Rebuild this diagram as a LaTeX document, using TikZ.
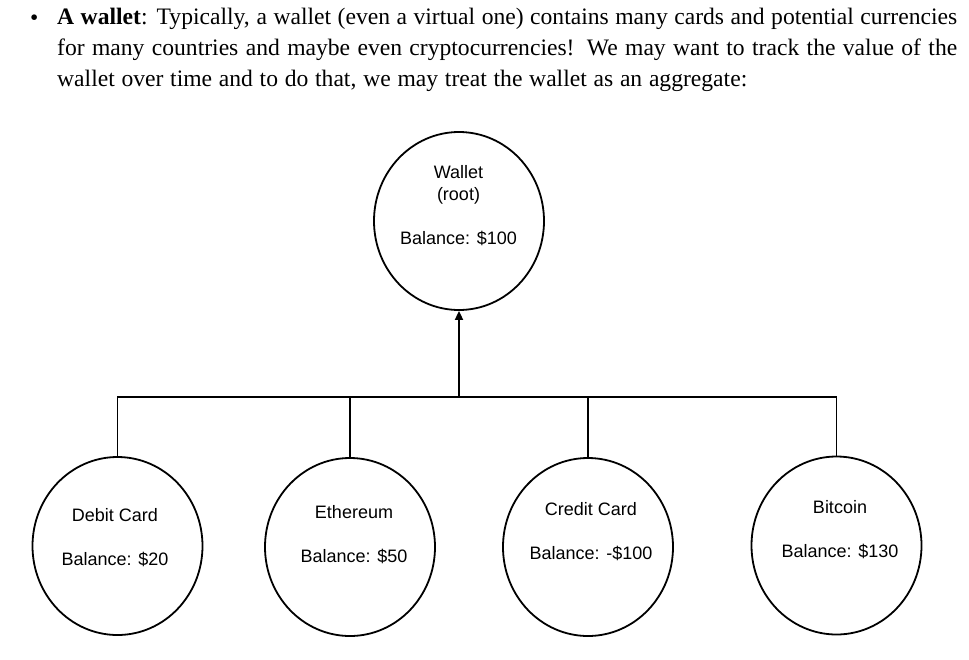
\documentclass[tikz,border=0pt]{standalone}
\usepackage{fontspec}
\setmainfont{Liberation Serif}
\newfontfamily\diagfont{Liberation Sans}
\usetikzlibrary{shapes.geometric,arrows.meta}
\tikzset{
  bubble/.style={ellipse,draw,line width=1.8pt,minimum width=170pt,minimum height=178pt,inner sep=0pt},
  btext/.style={font=\diagfont\fontsize{18}{22}\selectfont,align=center,inner sep=0pt},
  wire/.style={line width=1.8pt},
  para/.style={anchor=base west,inner sep=0pt,font=\fontsize{23.6}{28}\selectfont}
}
\begin{document}
\begin{tikzpicture}[x=1pt,y=-1pt]
\useasboundingbox (0,0) rectangle (969,659);
% paragraph
\node[para] (bul) at (30,25) {\textbullet};
\node[para] (l1) at (57,24) {\makebox[900pt][s]{\textbf{A wallet}: Typically, a wallet (even a virtual one) contains many cards and potential currencies}};
\node[para] (l2) at (57,55) {\makebox[900pt][s]{for many countries and maybe even cryptocurrencies! We may want to track the value of the}};
\node[para] (l3) at (57,86) {\makebox[690pt][s]{wallet over time and to do that, we may treat the wallet as an aggregate:}};
% bubbles
\node[bubble] (root) at (459,221) {};
\node[bubble] (debit) at (117.5,546) {};
\node[bubble] (eth) at (350,547) {};
\node[bubble] (credit) at (588,547) {};
\node[bubble] (btc) at (836.5,545.5) {};
% texts
\node[btext] (rootT) at (458.5,206) {Wallet\\(root)\\[22pt]Balance: \$100};
\node[btext] (debitT) at (115,538) {Debit Card\\[22pt]Balance: \$20};
\node[btext] (ethT) at (354,535) {Ethereum\\[22pt]Balance: \$50};
\node[btext] (creditT) at (591,532) {Credit Card\\[22pt]Balance: -\$100};
\node[btext] (btcT) at (840,530) {Bitcoin\\[22pt]Balance: \$130};
% connectors
\coordinate (bus) at (459,397);
\draw[wire] (debit.north) -- (debit.north |- bus) -- (btc.north |- bus) -- (btc.north);
\draw[wire] (eth.north) -- (eth.north |- bus);
\draw[wire] (credit.north) -- (credit.north |- bus);
\draw[wire,-{Triangle[width=8pt,length=9pt]}] (bus) -- (root.south);
\end{tikzpicture}
\end{document}
